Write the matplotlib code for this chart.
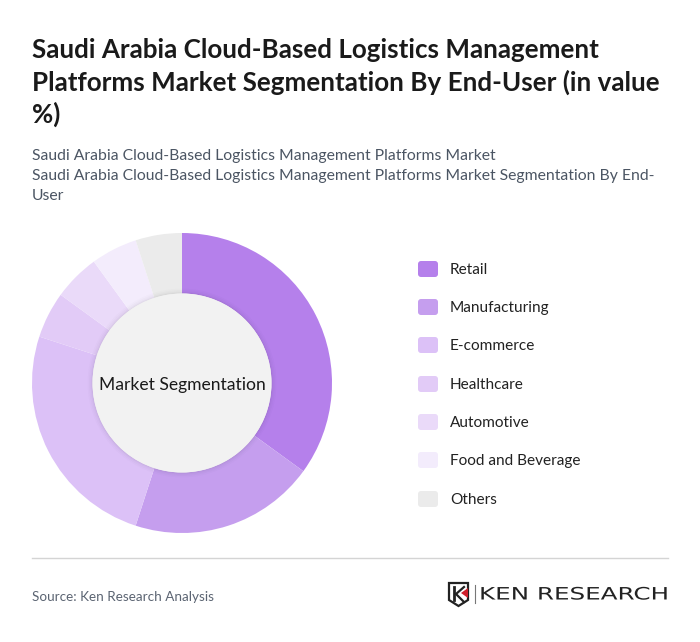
import matplotlib
matplotlib.use('Agg')
import matplotlib.pyplot as plt
import matplotlib.patheffects as pe
from matplotlib.patches import Circle, FancyBboxPatch, Polygon
from matplotlib.transforms import Affine2D

# data
categories = ['Retail', 'Manufacturing', 'E-commerce', 'Healthcare', 'Automotive', 'Food and Beverage', 'Others']
values = [35, 20, 25, 5, 5, 5, 5]
colors = ['#b580eb', '#c59eee', '#dcc1f7', '#e2cbf7', '#eadaf9', '#f3ecfc', '#ebebeb']
legend_y = [270, 308, 346, 385, 423, 461, 500]

title_lines = ['Saudi Arabia Cloud-Based Logistics Management',
               'Platforms Market Segmentation By End-User (in value',
               '%)']
subtitle_lines = ['Saudi Arabia Cloud-Based Logistics Management Platforms Market',
                  'Saudi Arabia Cloud-Based Logistics Management Platforms Market Segmentation By End-',
                  'User']

W, H = 700, 642
plt.rcParams['font.family'] = ['Lato', 'DejaVu Sans']


class StretchX(pe.AbstractPathEffect):
    # the logo lettering is much wider than any installed font
    def __init__(self, x0, sx):
        super().__init__()
        self.stretch = Affine2D().translate(-x0, 0).scale(sx, 1).translate(x0, 0)

    def draw_path(self, renderer, gc, tpath, affine, rgbFace=None):
        renderer.draw_path(gc, tpath, affine + self.stretch, rgbFace)


fig = plt.figure(figsize=(W / 100, H / 100), dpi=100, facecolor='white')

# background axes in pixel coords, y going down
bg = fig.add_axes([0, 0, 1, 1])
bg.set_xlim(0, W)
bg.set_ylim(H, 0)
bg.axis('off')

for line, y in zip(title_lines, [50, 82, 114]):
    bg.text(32, y, line, fontsize=18.73, fontweight='bold', color='#1a1a1a', va='center', ha='left')
for line, y in zip(subtitle_lines, [156, 176, 196]):
    bg.text(32, y, line, fontsize=11.32, color='#4b5563', va='center', ha='left')

# donut
cx, cy, r = 182, 383, 150
ax = fig.add_axes([(cx - r) / W, 1 - (cy + r) / H, 2 * r / W, 2 * r / H])
ax.pie(values, colors=colors, startangle=90, counterclock=False, radius=1,
       wedgeprops=dict(width=1 - 89.5 / 150, linewidth=0))
ax.set_xlim(-1, 1)
ax.set_ylim(-1, 1)
ax.set_aspect('equal')
ax.axis('off')

# soft shadow round the centre disc
for extra, alpha in zip([5, 3.5, 2, 1], [0.012, 0.016, 0.02, 0.025]):
    ax.add_patch(Circle((0, 0), (89.5 + extra) / 150, facecolor='black', alpha=alpha, linewidth=0))
ax.add_patch(Circle((0, 0), 89.5 / 150, facecolor='#f2f2f2', linewidth=0))
ax.text(0, -0.012, 'Market Segmentation', fontsize=12.6, color='#1a1a1a', ha='center', va='center')

# legend
for name, col, y in zip(categories, colors, legend_y):
    bg.add_patch(FancyBboxPatch((420, y - 7), 16, 12, boxstyle='round,pad=2,rounding_size=3',
                                facecolor=col, edgecolor='none'))
    bg.text(450, y, name, fontsize=11.08, color='#222222', va='center', ha='left')

# footer
bg.plot([32, 668], [557.5, 557.5], color='#d4d4d4', lw=1)
bg.text(32, 597, 'Source: Ken Research Analysis', fontsize=9.73, color='#5b6472', va='center', ha='left')

# logo
bg.add_patch(Polygon([(449, 583), (468, 583), (468, 600), (458.5, 606), (449, 600)], closed=True,
                     facecolor='white', edgecolor='#222222', lw=1.6))
bg.plot([454, 454], [587, 600], color='#222222', lw=2)
bg.plot([464, 456, 464], [587, 594, 602], color='#222222', lw=1.6)
bg.add_patch(Polygon([(468, 588), (468, 598), (461, 593)], closed=True, facecolor='#d0202c', edgecolor='none'))
bg.plot([475, 475], [585, 603], color='#777777', lw=0.8)
bg.text(479, 594.5, 'KEN RESEARCH', fontsize=12.3, family=['DejaVu Sans'], color='#222222', va='center', ha='left',
        path_effects=[StretchX(479, 1.44)])

fig.savefig('out.png', dpi=100, facecolor='white')
